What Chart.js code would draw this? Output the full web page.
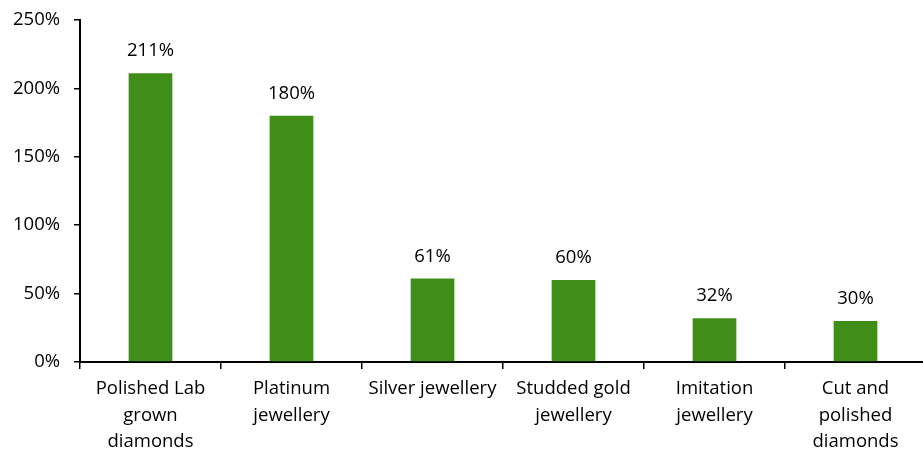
<!DOCTYPE html>
<html>
<head>
<meta charset="utf-8">
<script src="https://cdn.jsdelivr.net/npm/chart.js@4/dist/chart.umd.min.js"></script>
<style>
  html, body { margin: 0; padding: 0; background: #fff; overflow: hidden; }
  #wrap { width: 927px; height: 451px; }
</style>
</head>
<body>
<div id="wrap"><canvas id="c" width="927" height="451"></canvas></div>
<script>
// Categories (multi-line labels) and growth values in percent
const categories = [
  ["Polished Lab", "grown", "diamonds"],
  ["Platinum", "jewellery"],
  ["Silver jewellery"],
  ["Studded gold", "jewellery"],
  ["Imitation", "jewellery"],
  ["Cut and", "polished", "diamonds"]
];
const growth = [211, 180, 61, 60, 32, 30];
const yTicks = [0, 50, 100, 150, 200, 250];

const FONT = "'Open Sans', Lato, sans-serif";
const FONT_SIZE = 18.5;
const BAR_COLOR = "#3e8e18";

// Draws the value above each bar
const valueLabels = {
  id: "valueLabels",
  afterDatasetsDraw(chart) {
    const ctx = chart.ctx;
    const meta = chart.getDatasetMeta(0);
    ctx.save();
    ctx.fillStyle = "#000";
    ctx.font = FONT_SIZE + "px " + FONT;
    ctx.textAlign = "center";
    ctx.textBaseline = "alphabetic";
    meta.data.forEach((bar, i) => {
      ctx.fillText(growth[i] + "%", bar.x, bar.y - 17);
    });
    ctx.restore();
  }
};

new Chart(document.getElementById("c"), {
  type: "bar",
  data: {
    labels: categories,
    datasets: [{
      data: growth,
      backgroundColor: BAR_COLOR,
      borderWidth: 0,
      barPercentage: 0.31,
      categoryPercentage: 1.0
    }]
  },
  options: {
    responsive: false,
    animation: false,
    layout: { padding: { top: 20, left: 0, right: 1, bottom: 0 } },
    plugins: { legend: { display: false }, tooltip: { enabled: false } },
    scales: {
      x: {
        border: { display: true, color: "#000", width: 2 },
        grid: { display: true, drawOnChartArea: false, drawTicks: true, tickLength: 7, color: "#000", lineWidth: 1.5, offset: true },
        ticks: { color: "#000", font: { family: FONT, size: FONT_SIZE, lineHeight: 1.42 }, maxRotation: 0, autoSkip: false, padding: 7 },
        afterFit(scale) { scale.height = 89; }
      },
      y: {
        min: 0,
        max: 250,
        border: { display: true, color: "#000", width: 2 },
        grid: { display: true, drawOnChartArea: false, drawTicks: true, tickLength: 6, color: "#000", lineWidth: 1.5 },
        afterBuildTicks(scale) { scale.ticks = yTicks.map(v => ({ value: v })); },
        ticks: { color: "#000", font: { family: FONT, size: FONT_SIZE }, padding: 14, callback: v => v + "%" },
        afterFit(scale) {
          scale.width = 80;
          scale.paddingTop = 0;
          scale.paddingBottom = 0;
        }
      }
    }
  },
  plugins: [valueLabels]
});
</script>
</body>
</html>
